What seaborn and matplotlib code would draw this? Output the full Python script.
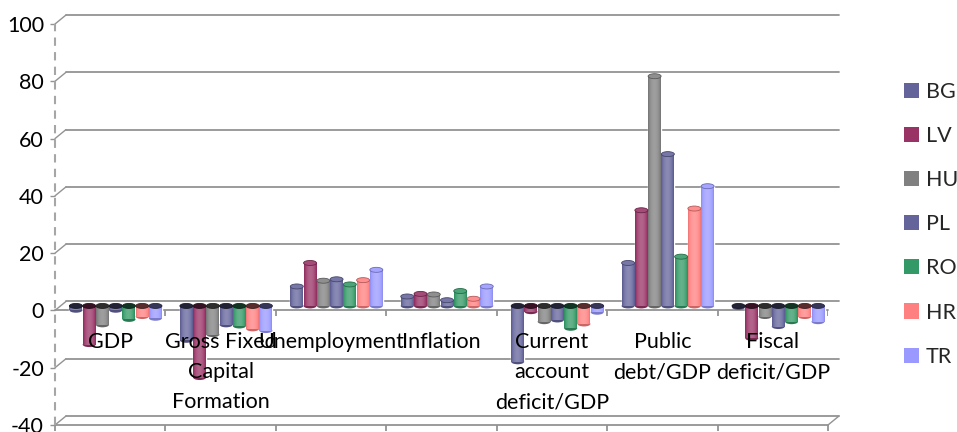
import numpy as np
import pandas as pd
import seaborn as sns
import matplotlib
matplotlib.use("Agg")
import matplotlib.pyplot as plt
from matplotlib import transforms
from matplotlib.patches import Ellipse, Patch
import matplotlib.colors as mcolors

# ---- data -------------------------------------------------------------
categories = ["GDP", "Gross Fixed\nCapital\nFormation", "Unemployment", "Inflation",
              "Current\naccount\ndeficit/GDP", "Public\ndebt/GDP", "Fiscal\ndeficit/GDP"]
countries = ["BG", "LV", "HU", "PL", "RO", "HR", "TR"]

bg = [-1.5, -12.0, 6.8, 3.3, -19.5, 15.0, -0.5]
lv = [-13.5, -25.0, 15.0, 4.2, -2.0, 33.4, -11.3]
hu = [-6.6, -10.0, 8.8, 4.0, -5.5, 80.2, -3.7]
pl = [-1.5, -6.6, 9.3, 2.0, -4.9, 53.0, -7.2]
ro = [-4.7, -7.0, 7.5, 5.2, -7.8, 17.2, -5.5]
hr = [-3.7, -8.0, 9.0, 2.5, -6.3, 34.0, -3.7]
tr = [-4.3, -8.6, 12.6, 6.8, -2.2, 41.8, -5.5]

series = [bg, lv, hu, pl, ro, hr, tr]
palette = ["#64649B", "#993366", "#808080", "#64649B", "#339966", "#FF8080", "#9999FF"]

yticks = [-40, -20, 0, 20, 40, 60, 80, 100]

df = pd.DataFrame({
    "indicator": np.repeat(categories, len(countries)),
    "country": countries * len(categories),
    "value": [series[j][i] for i in range(len(categories)) for j in range(len(countries))],
})

# ---- figure -----------------------------------------------------------
sns.set_theme(style="white")
plt.rcParams["font.family"] = ["Lato", "DejaVu Sans"]
FS = 15.5

W, H, DPI = 957, 432, 100
fig = plt.figure(figsize=(W / DPI, H / DPI), dpi=DPI)
ax_l, ax_r, ax_t, ax_b = 55, 828, 24, 425
ax = fig.add_axes([ax_l / W, (H - ax_b) / H, (ax_r - ax_l) / W, (ax_b - ax_t) / H])

sns.barplot(data=df, x="indicator", y="value", hue="country", hue_order=countries,
            palette=palette, width=0.84, gap=0.02, legend=False, errorbar=None,
            saturation=1, ax=ax, zorder=3)

ax.set_xlim(-0.5, len(categories) - 0.5)
ax.set_ylim(-40, 100)
for s in ax.spines.values():
    s.set_visible(False)

px_x = (ax_r - ax_l) / len(categories)      # pixels per category
px_y = (ax_b - ax_t) / 140.0                 # pixels per value unit
grid_c = "#939393"

# back wall depth offsets
back_dx, back_dy = 11 / px_x, 9 / px_y

# gridlines on the back wall with slanted joins to the value axis
for v in yticks:
    ax.plot([-0.5 + back_dx, len(categories) - 0.5 + back_dx], [v + back_dy, v + back_dy],
            color=grid_c, lw=1.3, zorder=1, clip_on=False)
    ax.plot([-0.5, -0.5 + back_dx], [v, v + back_dy], color=grid_c, lw=1.0,
            zorder=1, clip_on=False)

# floor front edge and right slant
ax.plot([-0.5, len(categories) - 0.5], [-40, -40], color=grid_c, lw=1.3, clip_on=False, zorder=1)
ax.plot([len(categories) - 0.5, len(categories) - 0.5 + back_dx], [-40, -40 + back_dy],
        color=grid_c, lw=1.0, clip_on=False, zorder=1)
# category axis at zero
ax.plot([-0.5, len(categories) - 0.5], [0, 0], color=grid_c, lw=1.3, zorder=2, clip_on=False)
bounds = np.arange(-0.5, len(categories), 1.0)
ax.vlines(bounds[1:], -6 / px_y, 0, color=grid_c, lw=1.3, zorder=2)

# dashed value axis
ax.plot([-0.5, -0.5], [-40, 100], color="#a6a6a6", lw=1.5, ls=(0, (4, 3)), zorder=2,
        clip_on=False)

ax.set_yticks(yticks)
ax.set_yticklabels([str(v) for v in yticks])
ax.tick_params(axis="y", length=5 * 72 / DPI, width=1, color=grid_c, pad=6 * 72 / DPI,
               labelsize=FS, labelcolor="black", left=True)
ax.set_xticks(bounds)
ax.set_xticklabels([])
ax.tick_params(axis="x", length=6 * 72 / DPI, width=1.3, color=grid_c, bottom=True)
ax.set_xlabel("")
ax.set_ylabel("")


# ---- cylinder shading -------------------------------------------------
def shade(rgb, f):
    rgb = np.asarray(rgb)
    if f >= 1:
        return rgb + (1 - rgb) * (f - 1)
    return rgb * f


xs = np.linspace(0, 1, 40)
profile = 0.72 + 0.55 * np.sin(np.pi * (xs * 0.9 + 0.05)) ** 0.6
profile = np.where(profile > 1, 1 + (profile - 1) * 0.9, profile)

bar_tf = ax.transData + transforms.ScaledTranslation(5.5 / DPI, 4.5 / DPI, fig.dpi_scale_trans)
cap_h = 5 / px_y

for container, col in zip(ax.containers, palette):
    base = np.array(mcolors.to_rgb(col))
    for p in container.patches:
        p.set_transform(bar_tf)
        x0, w = p.get_x(), p.get_width()
        y0, h = p.get_y(), p.get_height()
        lo, hi = min(y0, y0 + h), max(y0, y0 + h)
        img = np.array([[shade(base, f) for f in profile]])
        im = ax.imshow(img, extent=[x0, x0 + w, lo, hi], aspect="auto",
                       transform=bar_tf, zorder=3.2, interpolation="bilinear")
        im.set_clip_on(False)
        top = y0 + h
        if h >= 0:
            cap_col = shade(base, 1.12)
            edge = shade(base, 0.7)
        else:
            cap_col = shade(base, 0.35)
            edge = shade(base, 0.25)
        ax.add_patch(Ellipse((x0 + w / 2, top if h >= 0 else 0), w, cap_h,
                             facecolor=cap_col, edgecolor=edge, lw=0.6,
                             transform=bar_tf, zorder=3.4, clip_on=False))
        bot = y0 if h >= 0 else top
        ax.add_patch(Ellipse((x0 + w / 2, bot), w, cap_h, facecolor=shade(base, 0.8),
                             edgecolor="none", transform=bar_tf, zorder=3.1, clip_on=False))

ax.set_xlim(-0.5, len(categories) - 0.5)
ax.set_ylim(-40, 100)

# ---- category labels ------------------------------------------------------
for i, name in enumerate(categories):
    ax.text(i, -7.6, name, ha="center", va="top", fontsize=FS, color="black",
            linespacing=1.62, zorder=6)

# ---- legend -----------------------------------------------------------
handles = [Patch(facecolor=c, edgecolor="none") for c in palette]
fig.legend(handles, countries, loc="upper left", bbox_to_anchor=(904 / W, 1 - 82 / H),
           frameon=False, fontsize=FS, handlelength=0.7, handleheight=0.7,
           handletextpad=0.3, labelspacing=1.12, borderpad=0, borderaxespad=0)

fig.savefig("out.png", dpi=DPI)
